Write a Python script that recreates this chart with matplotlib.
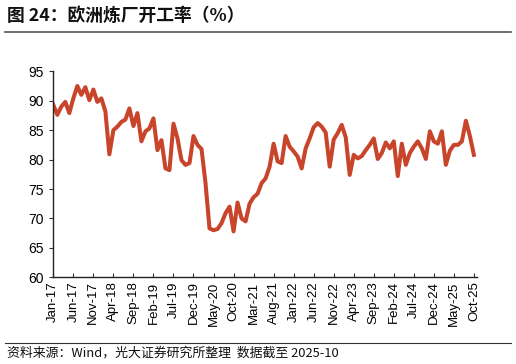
import numpy as np
import pandas as pd
import matplotlib
matplotlib.use('Agg')
import matplotlib.pyplot as plt

# monthly refinery utilisation, Jan-17 .. Oct-25
months = pd.date_range('2017-01-01', '2025-10-01', freq='MS')
rate = [89.3, 87.6, 89.0, 89.8, 87.9, 90.4, 92.5, 91.0, 92.3, 90.1,
        91.9, 89.8, 90.4, 88.2, 80.9, 85.0, 85.6, 86.4, 86.8, 88.7,
        85.7, 87.9, 83.1, 84.8, 85.3, 87.0, 81.6, 83.3, 78.5, 78.2,
        86.1, 83.6, 79.9, 79.1, 79.4, 84.0, 82.5, 81.8, 76.0, 68.3,
        68.0, 68.2, 69.2, 70.9, 72.0, 67.8, 72.7, 70.0, 69.5, 72.5,
        73.6, 74.2, 76.0, 76.8, 78.8, 82.7, 79.7, 79.4, 84.0, 82.2,
        81.4, 80.5, 78.5, 81.9, 83.6, 85.5, 86.2, 85.6, 84.6, 78.8,
        83.4, 84.5, 85.9, 83.8, 77.4, 80.8, 80.2, 80.6, 81.6, 82.5,
        83.6, 80.1, 81.1, 82.9, 81.9, 83.1, 77.2, 82.7, 79.1, 81.1,
        82.2, 83.1, 81.9, 80.1, 84.8, 83.1, 82.7, 84.8, 79.1, 81.5,
        82.5, 82.5, 83.1, 86.6, 84.0, 80.8]
tick_step = 5
yticks = [60, 65, 70, 75, 80, 85, 90, 95]

x = np.arange(len(months))
labels = [d.strftime('%b-%y') for d in months]

W, H = 516, 364
fig = plt.figure(figsize=(W / 100, H / 100), dpi=100)
ax = fig.add_axes([53.3 / W, 1 - 277.3 / H, (476.7 - 53.3) / W, (277.3 - 71.3) / H])

ax.plot(x, rate, color='#C8442A', lw=2.9, solid_joinstyle='round')
ax.set_xlim(0, 105.7)
ax.set_ylim(60, 95)
ax.set_yticks(yticks)
ax.set_xticks(x[::tick_step])
ax.set_xticklabels(labels[::tick_step], rotation=90, fontfamily='Liberation Sans', fontsize=9.5)
for t in ax.get_yticklabels():
    t.set_fontfamily('Liberation Sans')
    t.set_fontsize(10)
ax.tick_params(axis='x', direction='in', length=3, pad=3, color='#333333')
ax.tick_params(axis='y', direction='out', length=3, pad=4, color='#333333')
for s in ['top', 'right']:
    ax.spines[s].set_visible(False)
for s in ['left', 'bottom']:
    ax.spines[s].set_color('#222222')
    ax.spines[s].set_linewidth(1)

# title, rules and source line
fig.text(7 / W, 1 - 16 / H, '图 24：欧洲炼厂开工率（%）', fontfamily='Noto Sans CJK SC',
         fontsize=12.8, fontweight='bold', va='center', ha='left', color='#111111')
fig.add_artist(plt.Line2D([5 / W, 511 / W], [1 - 32 / H, 1 - 32 / H], color='#555555', lw=1.2))
fig.add_artist(plt.Line2D([5 / W, 511 / W], [1 - 342.5 / H, 1 - 342.5 / H], color='#333333', lw=0.8))
fig.text(7 / W, 1 - 353 / H, '资料来源：Wind，光大证券研究所整理  数据截至 2025-10',
         fontfamily=['Noto Sans CJK SC', 'DejaVu Sans'], fontsize=9.3, va='center', ha='left',
         color='#111111')

fig.savefig('out.png', dpi=100)
